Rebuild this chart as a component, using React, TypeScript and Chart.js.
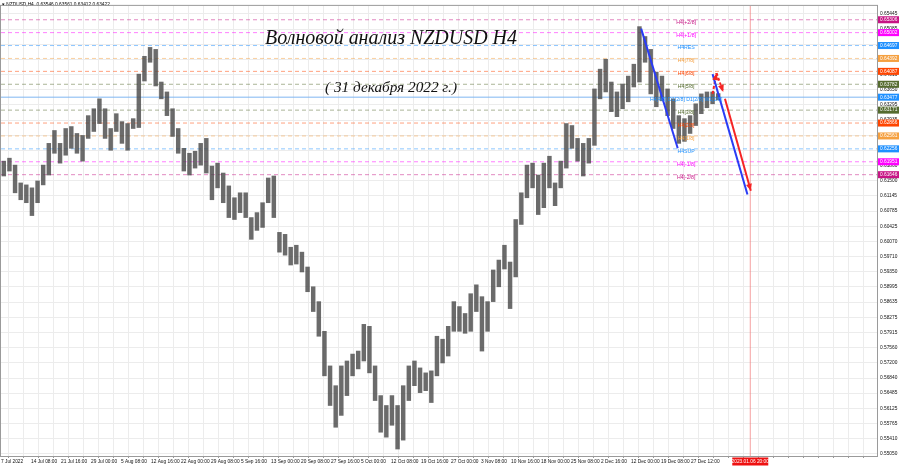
import { useEffect, useRef } from 'react';
import { Chart, registerables } from 'chart.js';
Chart.register(...registerables);

// Daily ranges (7 Jul 2022 .. 30 Dec 2022)
const candleHigh = [
  0.61966, 0.62036, 0.61872, 0.61451, 0.61405, 0.61335, 0.61498, 0.61872, 0.62386, 0.62690,
  0.62386, 0.62737, 0.62783, 0.62620, 0.62573, 0.63041, 0.63204, 0.63438, 0.63204, 0.62737,
  0.63087, 0.62900, 0.62854, 0.62970, 0.64022, 0.64443, 0.64653, 0.64606, 0.63835, 0.63601,
  0.63204, 0.62737, 0.62269, 0.62152, 0.62199, 0.62386, 0.62503, 0.61849, 0.61919, 0.61685,
  0.61381, 0.61101, 0.61218, 0.61218, 0.60633, 0.60750, 0.60984, 0.61568, 0.61615, 0.60283,
  0.60236, 0.59932, 0.59979, 0.59816, 0.59465, 0.58998, 0.58647, 0.57946, 0.57128, 0.56661,
  0.57128, 0.57245, 0.57408, 0.57479, 0.58110, 0.58063, 0.57128, 0.56427, 0.56193, 0.56427,
  0.56193, 0.56661, 0.57128, 0.57245, 0.57081, 0.56964, 0.57011, 0.57829, 0.57759, 0.58063,
  0.58647, 0.58530, 0.58367, 0.58834, 0.59044, 0.58764, 0.58647, 0.59395, 0.59629, 0.59979,
  0.59582, 0.60587, 0.61218, 0.61872, 0.61919, 0.61638, 0.61919, 0.62082, 0.61451, 0.61966,
  0.62854, 0.62807, 0.62503, 0.62386, 0.62503, 0.63672, 0.64139, 0.64373, 0.63835, 0.63601,
  0.63788, 0.63975, 0.64256, 0.65144, 0.64910, 0.64606, 0.64069, 0.63975, 0.63672, 0.63438,
  0.63041, 0.62970, 0.63041, 0.63321, 0.63555, 0.63601, 0.63601, 0.63561,
];
const candleLow = [
  0.61615, 0.61732, 0.61218, 0.61054, 0.60984, 0.60680, 0.60984, 0.61405, 0.61638, 0.62152,
  0.61919, 0.62106, 0.62269, 0.62152, 0.61966, 0.62503, 0.62667, 0.62854, 0.62503, 0.62223,
  0.62667, 0.62386, 0.62223, 0.62737, 0.62760, 0.63859, 0.64302, 0.63742, 0.63438, 0.63041,
  0.62550, 0.62152, 0.61732, 0.61638, 0.61802, 0.61872, 0.61685, 0.61054, 0.61335, 0.60984,
  0.60633, 0.60587, 0.60750, 0.60633, 0.60119, 0.60330, 0.60400, 0.60984, 0.60633, 0.59816,
  0.59745, 0.59512, 0.59535, 0.59348, 0.58881, 0.58413, 0.57829, 0.56894, 0.56193, 0.55679,
  0.55959, 0.56427, 0.56894, 0.57058, 0.57245, 0.56964, 0.56310, 0.55562, 0.55445, 0.55726,
  0.55165, 0.55375, 0.56310, 0.56661, 0.56497, 0.56544, 0.56263, 0.56894, 0.57198, 0.57362,
  0.57946, 0.57946, 0.57899, 0.57946, 0.58413, 0.57479, 0.57946, 0.58647, 0.58998, 0.59418,
  0.58483, 0.59231, 0.60470, 0.61101, 0.61335, 0.60704, 0.60867, 0.61335, 0.60914, 0.61335,
  0.61802, 0.62269, 0.61966, 0.61615, 0.61919, 0.62339, 0.63438, 0.63601, 0.63134, 0.63017,
  0.63204, 0.63368, 0.63718, 0.63835, 0.64302, 0.63555, 0.63251, 0.63391, 0.63041, 0.62737,
  0.62386, 0.62433, 0.62620, 0.62807, 0.63087, 0.63228, 0.63321, 0.63412,
];

const timeLabels = [
  '7 Jul 2022', '14 Jul 08:00', '21 Jul 16:00', '29 Jul 00:00', '5 Aug 08:00', '12 Aug 16:00',
  '22 Aug 00:00', '29 Aug 08:00', '5 Sep 16:00', '13 Sep 00:00', '20 Sep 08:00', '27 Sep 16:00',
  '5 Oct 00:00', '12 Oct 08:00', '19 Oct 16:00', '27 Oct 00:00', '3 Nov 08:00', '10 Nov 16:00',
  '18 Nov 00:00', '25 Nov 08:00', '2 Dec 16:00', '12 Dec 00:00', '19 Dec 08:00', '27 Dec 12:00',
];

const priceTicks = [
  0.65445, 0.65085, 0.64725, 0.64365, 0.6401, 0.6365, 0.63295, 0.62935, 0.62575, 0.6222,
  0.6186, 0.615, 0.61145, 0.60785, 0.60425, 0.6007, 0.5971, 0.5935, 0.58995, 0.58635,
  0.58275, 0.57915, 0.5756, 0.572, 0.5684, 0.56485, 0.56125, 0.55765, 0.5541, 0.5505,
];

const levelValues = [
  0.65306, 0.65002, 0.64697, 0.64392, 0.64087, 0.63782, 0.63477, 0.63171, 0.62866, 0.62561,
  0.62256, 0.61951, 0.61646,
];
const levelNames = [
  'H4[+2/8]', 'H4[+1/8]', 'H4RES', 'H4[7/8]', 'H4[6/8]', 'H4[5/8]',
  'H4[4/8] D1[2/8] D1[2/8] W1[2/8]', 'H4[3/8]', 'H4[2/8]', 'H4[1/8]', 'H4SUP', 'H4[-1/8]', 'H4[-2/8]',
];
const levelColors = [
  '#c71585', '#ff00ff', '#1e90ff', '#f5a040', '#ff4500', '#556b2f', '#1e90ff',
  '#556b2f', '#ff4500', '#f5a040', '#1e90ff', '#ff00ff', '#c71585',
];

// wave annotations: [slot, price]
const blueWave1 = [[113.8, 0.65097], [120.3, 0.62269]];
const blueWave2 = [[126.5, 0.64022], [132.7, 0.61178]];
const redMain = [[128.7, 0.63438], [133.3, 0.61265]];
const redDashUp = [[126.5, 0.63555], [127.2, 0.64046]];
const redDashDown = [[127.2, 0.64046], [128.4, 0.63601]];
const futureMarker = 133.2;
const futureLabel = '2023.01.06 20:00';
const headerText = 'NZDUSD,H4  0.63546 0.63561 0.63412 0.63422';
const titleText = 'Волновой анализ NZDUSD H4';
const subtitleText = '( 31 декабря 2022 г.)';

const X_MAX = 155.73;
const Y_MIN = 0.55;
const Y_MAX = 0.65634;

function withAlpha(hex: string, a: number) {
  const n = parseInt(hex.slice(1), 16);
  return `rgba(${(n >> 16) & 255},${(n >> 8) & 255},${n & 255},${a})`;
}

export default function App() {
  const ref = useRef<HTMLCanvasElement>(null);
  useEffect(() => {
    document.body.style.margin = '0';
    const canvas = ref.current!;
    const toPts = (arr: number[][]) => arr.map(([x, y]) => ({ x, y }));

    const levelSets: any[] = levelValues.map((v, i) => ({
      type: 'line',
      data: [{ x: 0, y: v }, { x: X_MAX, y: v }],
      borderColor: i === 6 ? '#7fb6f2' : withAlpha(levelColors[i], 0.5),
      borderWidth: 1,
      borderDash: i === 6 ? [] : [4, 3],
      pointRadius: 0,
      order: 10,
    }));

    const annot = (pts: number[][], color: string, dash: number[] = [], width = 2) => ({
      type: 'line',
      data: toPts(pts),
      borderColor: color,
      borderWidth: width,
      borderDash: dash,
      pointRadius: 0,
      order: 1,
    });

    const futureLine: any = {
      type: 'line',
      data: [{ x: futureMarker, y: Y_MIN }, { x: futureMarker, y: Y_MAX }],
      borderColor: 'rgba(240,120,120,0.7)',
      borderWidth: 1,
      pointRadius: 0,
      order: 9,
    };

    const candles: any = {
      type: 'bar',
      data: candleHigh.map((h, i) => ({ x: i + 0.5, y: [candleLow[i], h] })),
      backgroundColor: 'rgba(70,70,70,0.8)',
      borderWidth: 0,
      barThickness: 3.8,
      order: 5,
    };

    const arrowSets = [
      annot(blueWave1, '#2a3cf5'),
      annot(blueWave2, '#2a3cf5'),
      annot(redMain, '#f52424'),
      annot(redDashUp, '#f52424', [3, 2]),
      annot(redDashDown, '#f52424', [3, 2]),
    ];
    const arrowFlags = [false, false, true, true, true];

    const smallFont = '4.8px "Liberation Sans"';

    const overlay = {
      id: 'overlay',
      afterDatasetsDraw(chart: any) {
        const ctx = chart.ctx;
        const y = chart.scales.y;
        const x = chart.scales.x;
        ctx.save();
        ctx.font = '5.2px "Liberation Sans"';
        ctx.textAlign = 'center';
        ctx.textBaseline = 'middle';
        levelValues.forEach((v, i) => {
          ctx.fillStyle = levelColors[i];
          ctx.fillText(levelNames[i], x.getPixelForValue(121.8), y.getPixelForValue(v) + 2.5);
        });
        const base = levelSets.length + 2;
        arrowFlags.forEach((f, k) => {
          if (!f) return;
          const meta = chart.getDatasetMeta(base + k);
          const pts = meta.data;
          const p1 = pts[pts.length - 2];
          const p2 = pts[pts.length - 1];
          const ang = Math.atan2(p2.y - p1.y, p2.x - p1.x);
          const L = 7, W = 3;
          ctx.fillStyle = '#f52424';
          ctx.beginPath();
          ctx.moveTo(p2.x, p2.y);
          ctx.lineTo(p2.x - L * Math.cos(ang) + W * Math.sin(ang), p2.y - L * Math.sin(ang) - W * Math.cos(ang));
          ctx.lineTo(p2.x - L * Math.cos(ang) - W * Math.sin(ang), p2.y - L * Math.sin(ang) + W * Math.cos(ang));
          ctx.closePath();
          ctx.fill();
        });
        const fit = (text: string, target: number, style: string, base: number) => {
          ctx.font = `${style} ${base}px "Liberation Serif"`;
          const w = ctx.measureText(text).width;
          const size = (base * target) / w;
          ctx.font = `${style} ${size}px "Liberation Serif"`;
        };
        ctx.fillStyle = '#111';
        ctx.textAlign = 'center';
        ctx.textBaseline = 'middle';
        fit(titleText, 252, 'italic', 20);
        ctx.fillText(titleText, 391, 39);
        fit(subtitleText, 132, 'italic', 13);
        ctx.fillText(subtitleText, 391, 88);
        ctx.font = smallFont;
        ctx.textAlign = 'left';
        ctx.fillStyle = '#000';
        ctx.fillText('\u25BE ' + headerText, 2, 5);
        ctx.restore();
      },
      afterDraw(chart: any) {
        const ctx = chart.ctx;
        const y = chart.scales.y;
        const x = chart.scales.x;
        const a = chart.chartArea;
        ctx.save();
        ctx.strokeStyle = '#9a9a9a';
        ctx.lineWidth = 1;
        ctx.strokeRect(a.left - 0.5, a.top - 0.5, a.right - a.left + 1, a.bottom - a.top + 1);
        ctx.font = smallFont;
        ctx.textBaseline = 'middle';
        ctx.textAlign = 'left';
        levelValues.forEach((v, i) => {
          const py = y.getPixelForValue(v);
          ctx.fillStyle = levelColors[i];
          ctx.fillRect(a.right + 1, py - 3.5, 21, 7);
          ctx.fillStyle = '#fff';
          ctx.fillText(v.toFixed(5), a.right + 3, py);
        });
        const fx = x.getPixelForValue(futureMarker);
        ctx.fillStyle = '#ee1111';
        ctx.fillRect(fx - 18, a.bottom + 1.5, 36, 8);
        ctx.fillStyle = '#fff';
        ctx.textAlign = 'center';
        ctx.fillText(futureLabel, fx, a.bottom + 5.5);
        ctx.restore();
      },
    };

    const chart = new Chart(canvas, {
      type: 'bar',
      data: { datasets: [...levelSets, futureLine, candles, ...arrowSets] as any },
      options: {
        responsive: false,
        animation: false,
        devicePixelRatio: 1,
        layout: { padding: { left: 1, top: 1, right: 0, bottom: 0 } },
        plugins: { legend: { display: false }, tooltip: { enabled: false } },
        scales: {
          x: {
            type: 'linear',
            min: 0,
            max: X_MAX,
            offset: false,
            grid: { color: '#ececec', lineWidth: 1, drawTicks: true, tickLength: 2, tickColor: '#999' },
            border: { display: false },
            afterBuildTicks: (s: any) => {
              const t: any[] = [];
              for (let k = 0; k * (8 / 3) <= X_MAX; k++) t.push({ value: k * (8 / 3) });
              s.ticks = t;
            },
            afterFit: (s: any) => { s.height = 12; },
            ticks: {
              autoSkip: false,
              maxRotation: 0,
              minRotation: 0,
              align: 'start',
              padding: 1,
              color: '#111',
              font: { size: 4.8, family: 'Liberation Sans' },
              callback: (_v: any, i: number) => (i % 2 === 0 ? timeLabels[i / 2] ?? '' : ''),
            },
          },
          y: {
            position: 'right',
            min: Y_MIN,
            max: Y_MAX,
            grid: { color: '#ececec', lineWidth: 1, drawTicks: false },
            border: { display: false },
            afterBuildTicks: (s: any) => { s.ticks = priceTicks.map((v) => ({ value: v })); },
            afterFit: (s: any) => { s.width = 23; },
            ticks: {
              padding: 3,
              color: '#111',
              font: { size: 4.8, family: 'Liberation Sans' },
              callback: (v: any) => Number(v).toFixed(5),
            },
          },
        },
      } as any,
      plugins: [overlay],
    });
    return () => chart.destroy();
  }, []);
  return (
    <div style={{ width: 900, height: 468, background: '#fff' }}>
      <canvas ref={ref} width={900} height={468} style={{ display: 'block', width: 900, height: 468 }} />
    </div>
  );
}
